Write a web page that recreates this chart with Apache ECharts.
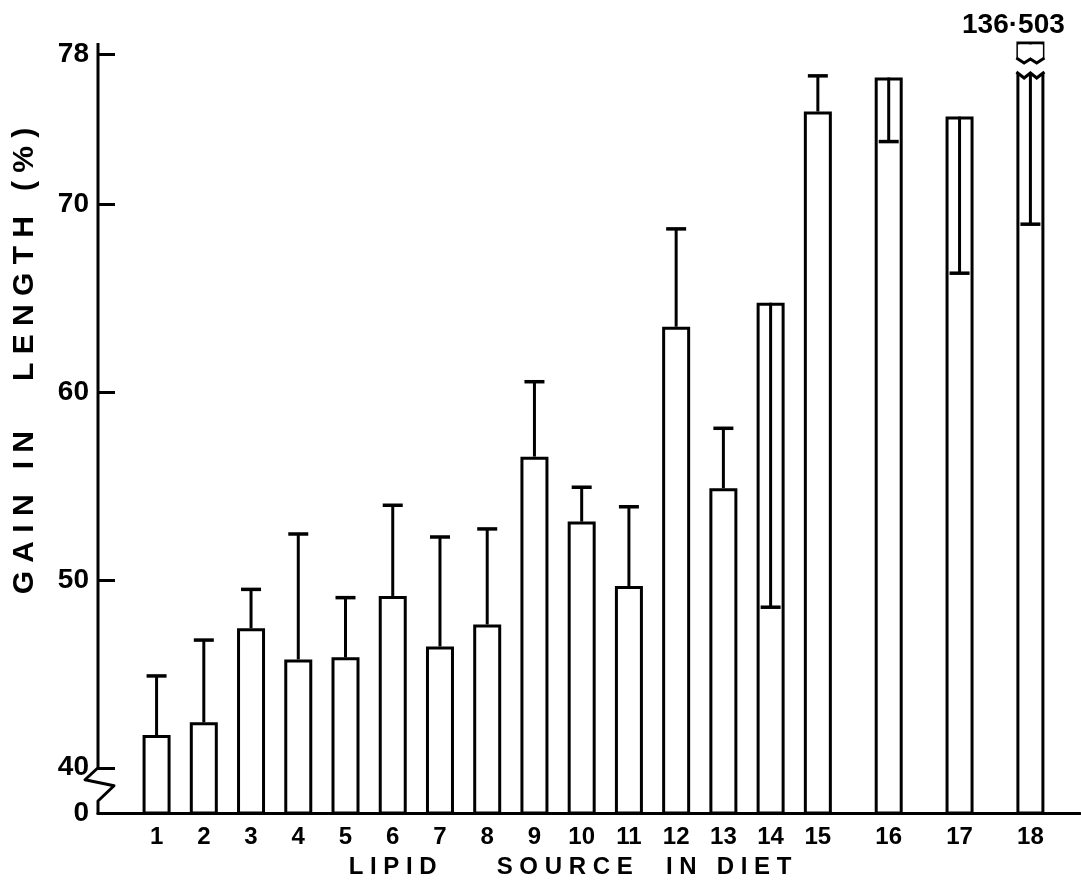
<!DOCTYPE html>
<html>
<head>
<meta charset="utf-8">
<script src="https://cdn.jsdelivr.net/npm/echarts@6/dist/echarts.min.js"></script>
<style>
  html, body { margin: 0; padding: 0; background: #ffffff; }
  #chart { width: 1081px; height: 895px; }
</style>
</head>
<body>
<div id="chart"></div>
<script>
// ---- data ----
const categories = ['1','2','3','4','5','6','7','8','9','10','11','12','13','14','15','16','17','18'];
// mean gain in length (%) per lipid source
const gainMean = [41.74, 42.42, 47.43, 45.77, 45.88, 49.15, 46.46, 47.63, 56.57, 53.11,
                  49.68, 63.49, 54.89, 64.77, 74.95, 76.76, 74.68, 136.503];
// end of the error whisker (above the mean, or below it for 14, 16, 17, 18)
const errorEnd = [44.89, 46.80, 49.50, 52.45, 49.06, 53.98, 52.29, 52.72, 60.56, 54.94,
                  53.90, 68.70, 58.08, 48.55, 76.85, 73.35, 66.34, 68.95];
const yTickValues = [40, 50, 60, 70, 78];

const xTitle = 'L I P I D         S O U R C E     I N   D I E T';
const yTitle = 'G A I N   I N      L E N G T H   ( % )';

// ---- layout ----
const FONT = '"Liberation Sans", Arial, sans-serif';
const Y_MIN = 37.59;   // bottom of broken axis (drawn as 0)
const Y_MAX = 78.6;
const X_MIN = -0.24;
const X_MAX = 20.55;
const BAR_W = 28;
// categories 16-18 are spaced wider apart in the original figure
const positions = categories.map((c, i) => i < 15 ? i + 1 : 15 + 1.5 * (i - 14));

const barData = positions.map((p, i) => [p, gainMean[i]]);
const errData = positions.map((p, i) => [p, gainMean[i], errorEnd[i]]);
const brokenData = positions.map((p, i) => [p, gainMean[i]]).filter(d => d[1] > Y_MAX);

function labelFor(v) {
  let best = 0, bd = Infinity;
  positions.forEach((p, i) => { const d = Math.abs(p - v); if (d < bd) { bd = d; best = i; } });
  return categories[best];
}

function renderError(params, api) {
  const x = api.value(0), m = Math.min(api.value(1), Y_MAX), e = api.value(2);
  const p1 = api.coord([x, m]);
  const p2 = api.coord([x, e]);
  const cap = 10;
  return {
    type: 'group',
    children: [
      { type: 'line', shape: { x1: p1[0], y1: p1[1], x2: p2[0], y2: p2[1] },
        style: { stroke: '#000', lineWidth: 3 } },
      { type: 'line', shape: { x1: p2[0] - cap, y1: p2[1], x2: p2[0] + cap, y2: p2[1] },
        style: { stroke: '#000', lineWidth: 3.5 } }
    ]
  };
}

function renderBroken(params, api) {
  const x = api.value(0), v = api.value(1);
  const p = api.coord([x, Y_MAX]);
  const cx = p[0], top = p[1], hw = BAR_W / 2;
  const wave = (y0, d) => [
    [cx - hw, y0], [cx - hw * 0.45, y0 + d], [cx, y0 + 1], [cx + hw * 0.45, y0 + d], [cx + hw, y0]
  ];
  return {
    type: 'group',
    children: [
      { type: 'rect', shape: { x: cx - hw + 1.5, y: top + 1.5, width: BAR_W - 3, height: 16 },
        style: { fill: '#fff' } },
      { type: 'rect', shape: { x: cx - hw - 3, y: top + 16, width: BAR_W + 6, height: 14 },
        style: { fill: '#fff' } },
      { type: 'polyline', shape: { points: wave(top + 15, 5) },
        style: { stroke: '#000', lineWidth: 3, fill: null } },
      { type: 'polyline', shape: { points: wave(top + 29, 6) },
        style: { stroke: '#000', lineWidth: 3, fill: null } },
      { type: 'text', x: cx - 17, y: top - 18,
        style: { text: String(v).replace('.', '·'), fill: '#000', fontSize: 28, fontWeight: 'bold',
                 fontFamily: FONT, align: 'center', verticalAlign: 'middle' } }
    ]
  };
}

function renderAxis(params, api) {
  const cs = params.coordSys;
  const x0 = cs.x, top = cs.y, bottom = cs.y + cs.height;
  const y40 = api.coord([X_MIN, 40])[1];
  return {
    type: 'polyline',
    shape: { points: [[x0, top], [x0, y40], [x0 - 13, y40 + 12], [x0 + 16, y40 + 18],
                      [x0, bottom - 12], [x0, bottom + 1.5]] },
    style: { stroke: '#000', lineWidth: 3, fill: null, lineJoin: 'round' }
  };
}

const chart = echarts.init(document.getElementById('chart'), null, { renderer: 'canvas' });
chart.setOption({
  animation: false,
  backgroundColor: '#ffffff',
  grid: { left: 98, right: 1, top: 43, bottom: 82, containLabel: false },
  xAxis: {
    type: 'value', min: X_MIN, max: X_MAX,
    name: xTitle, nameLocation: 'middle', nameGap: 42,
    nameTextStyle: { color: '#000', fontSize: 24, fontWeight: 'bold', fontFamily: FONT,
                     padding: [0, 38, 0, 0] },
    axisLine: { show: true, onZero: false, lineStyle: { color: '#000', width: 3 } },
    axisTick: { show: false },
    splitLine: { show: false },
    axisLabel: { customValues: positions, formatter: v => labelFor(v), color: '#000',
                 fontSize: 24, fontWeight: 'bold', fontFamily: FONT, margin: 12 }
  },
  yAxis: {
    type: 'value', min: Y_MIN, max: Y_MAX,
    name: yTitle, nameLocation: 'middle', nameRotate: 90, nameGap: 58,
    nameTextStyle: { color: '#000', fontSize: 30, fontWeight: 'bold', fontFamily: FONT,
                     padding: [0, 0, 0, 134] },
    axisLine: { show: false, onZero: false },
    axisTick: { show: true, inside: true, length: 17, customValues: yTickValues,
                lineStyle: { color: '#000', width: 3 } },
    splitLine: { show: false },
    axisLabel: { customValues: [Y_MIN].concat(yTickValues),
                 formatter: v => (v < 39 ? '0' : String(v)),
                 color: '#000', fontSize: 28, fontWeight: 'bold', fontFamily: FONT, margin: 9 }
  },
  series: [
    { type: 'bar', data: barData, barWidth: BAR_W, clip: true, z: 2,
      itemStyle: { color: '#fff', borderColor: '#000', borderWidth: 3 } },
    { type: 'custom', data: errData, renderItem: renderError, encode: { x: 0, y: [1, 2] },
      clip: false, z: 3 },
    { type: 'custom', data: brokenData, renderItem: renderBroken, encode: { x: 0, y: 1 },
      clip: false, z: 4 },
    { type: 'custom', data: [[X_MIN, Y_MIN]], renderItem: renderAxis, encode: { x: 0, y: 1 },
      clip: false, z: 5, silent: true }
  ]
});
</script>
</body>
</html>
